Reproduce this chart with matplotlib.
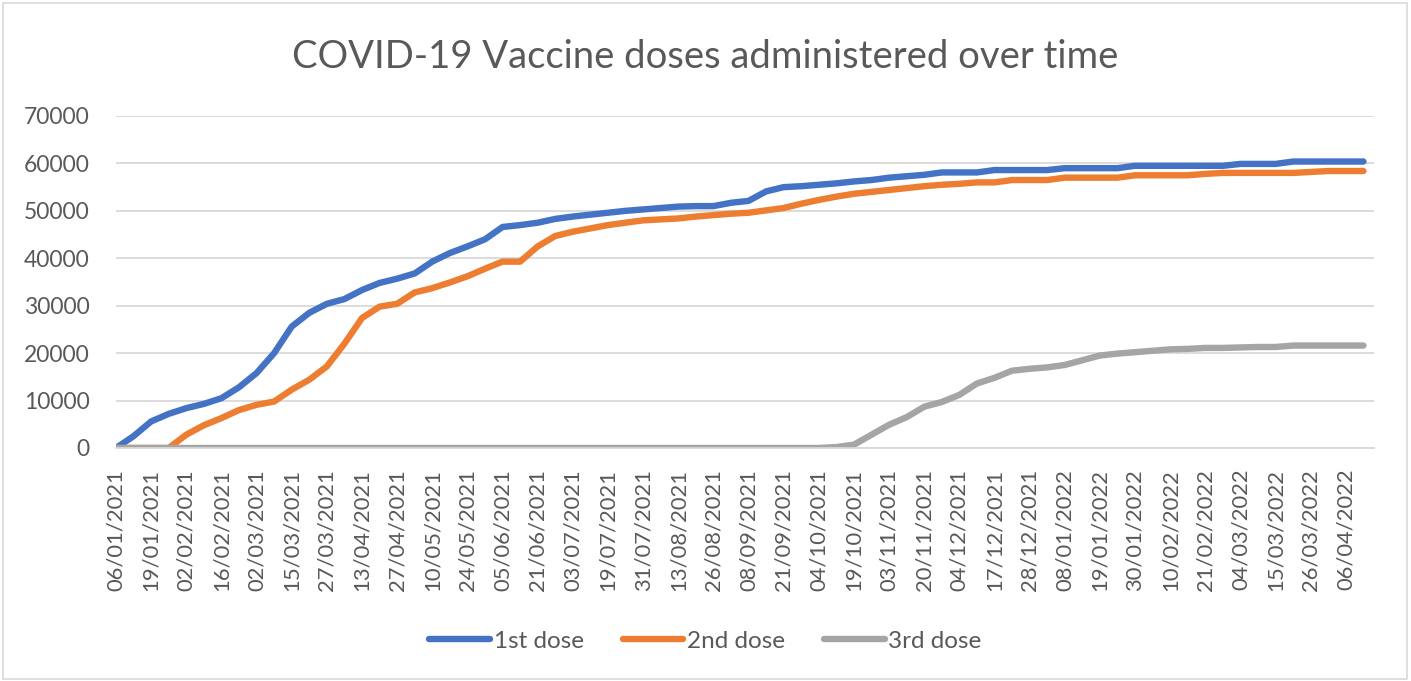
import numpy as np
import matplotlib
matplotlib.use('Agg')
import matplotlib.pyplot as plt
from matplotlib.patches import Rectangle

# tick labels shown on the category axis (one every 11 data rows)
date_labels = ['06/01/2021', '19/01/2021', '02/02/2021', '16/02/2021', '02/03/2021',
               '15/03/2021', '27/03/2021', '13/04/2021', '27/04/2021', '10/05/2021',
               '24/05/2021', '05/06/2021', '21/06/2021', '03/07/2021', '19/07/2021',
               '31/07/2021', '13/08/2021', '26/08/2021', '08/09/2021', '21/09/2021',
               '04/10/2021', '19/10/2021', '03/11/2021', '20/11/2021', '04/12/2021',
               '17/12/2021', '28/12/2021', '08/01/2022', '19/01/2022', '30/01/2022',
               '10/02/2022', '21/02/2022', '04/03/2022', '15/03/2022', '26/03/2022',
               '06/04/2022']

# cumulative doses at every label and half-way between labels
dose1 = [0, 2500, 5600, 7200, 8400, 9300, 10500, 12800, 15800, 20000,
         25600, 28500, 30400, 31400, 33300, 34800, 35700, 36800, 39300, 41100,
         42500, 44000, 46600, 47000, 47500, 48300, 48800, 49200, 49600, 50000,
         50300, 50600, 50900, 51000, 51000, 51700, 52100, 54100, 55000, 55200,
         55500, 55800, 56200, 56500, 57000, 57300, 57600, 58100, 58100, 58100,
         58600, 58600, 58600, 58600, 59000, 59000, 59000, 59000, 59500, 59500,
         59500, 59500, 59500, 59500, 59900, 59900, 59900, 60400, 60400, 60400,
         60400, 60400]

dose2 = [0, 0, 0, 0, 2800, 4800, 6300, 8000, 9100, 9800,
         12300, 14400, 17200, 22000, 27400, 29800, 30400, 32800, 33700, 34900,
         36200, 37800, 39300, 39300, 42500, 44700, 45600, 46300, 47000, 47500,
         48000, 48200, 48400, 48800, 49100, 49400, 49600, 50100, 50600, 51500,
         52300, 53000, 53600, 54000, 54400, 54800, 55200, 55500, 55700, 56000,
         56000, 56500, 56500, 56500, 57000, 57000, 57000, 57000, 57500, 57500,
         57500, 57500, 57800, 58000, 58000, 58000, 58000, 58000, 58200, 58400,
         58400, 58400]

dose3 = [0, 0, 0, 0, 0, 0, 0, 0, 0, 0,
         0, 0, 0, 0, 0, 0, 0, 0, 0, 0,
         0, 0, 0, 0, 0, 0, 0, 0, 0, 0,
         0, 0, 0, 0, 0, 0, 0, 0, 0, 0,
         0, 200, 700, 2800, 4900, 6500, 8700, 9700, 11200, 13600,
         14800, 16300, 16700, 17000, 17500, 18500, 19500, 19900, 20200, 20500,
         20800, 20900, 21100, 21100, 21200, 21300, 21300, 21600, 21600, 21600,
         21600, 21600]

series_names = ['1st dose', '2nd dose', '3rd dose']
colors = ['#4472C4', '#ED7D31', '#A5A5A5']

text_col = '#595959'
font = 'Lato'

fig = plt.figure(figsize=(14.11, 6.81), dpi=100)
ax = fig.add_axes([116 / 1411, 1 - 448 / 681, (1374 - 116) / 1411, (448 - 116) / 681])

# positions in "label units": sample i sits half a label step after sample i-1
x = np.arange(len(dose1)) * 0.5
for vals, name, c in zip([dose1, dose2, dose3], series_names, colors):
    ax.plot(x, vals, color=c, lw=4.6, label=name, solid_capstyle='round',
            solid_joinstyle='round')

ax.set_xlim(0, 35.8)
ax.set_ylim(0, 70000)
ax.set_yticks(np.arange(0, 70001, 10000))
ax.set_xticks(np.arange(len(date_labels)))
ax.set_xticklabels(date_labels, rotation=90, fontsize=15.8, color=text_col, family=font)
for lab in ax.get_yticklabels():
    lab.set_fontsize(16.5)
    lab.set_color(text_col)
    lab.set_family(font)
ax.tick_params(axis='y', length=0, pad=19)
ax.tick_params(axis='x', length=0, pad=15)

ax.grid(axis='y', color='#D9D9D9', lw=1.3)
ax.set_axisbelow(True)
for s in ['top', 'right', 'left']:
    ax.spines[s].set_visible(False)
ax.spines['bottom'].set_color('#D9D9D9')
ax.spines['bottom'].set_linewidth(1.3)

fig.text(0.5, 1 - 57 / 681, 'COVID-19 Vaccine doses administered over time',
         ha='center', va='center', fontsize=27.5, color=text_col, family=font)

fig.legend(loc='center', bbox_to_anchor=(0.5, 1 - 641 / 681), ncol=3, frameon=False,
           prop={'family': font, 'size': 17.5}, labelcolor=text_col,
           handlelength=2.5, handletextpad=0.15, columnspacing=1.6)

# light chart-area border
fig.patches.append(Rectangle((3 / 1411, 2 / 681), 1404 / 1411, 676 / 681,
                             transform=fig.transFigure, fill=False,
                             edgecolor='#D9D9D9', lw=1.2))

plt.savefig('out.png', dpi=100)
